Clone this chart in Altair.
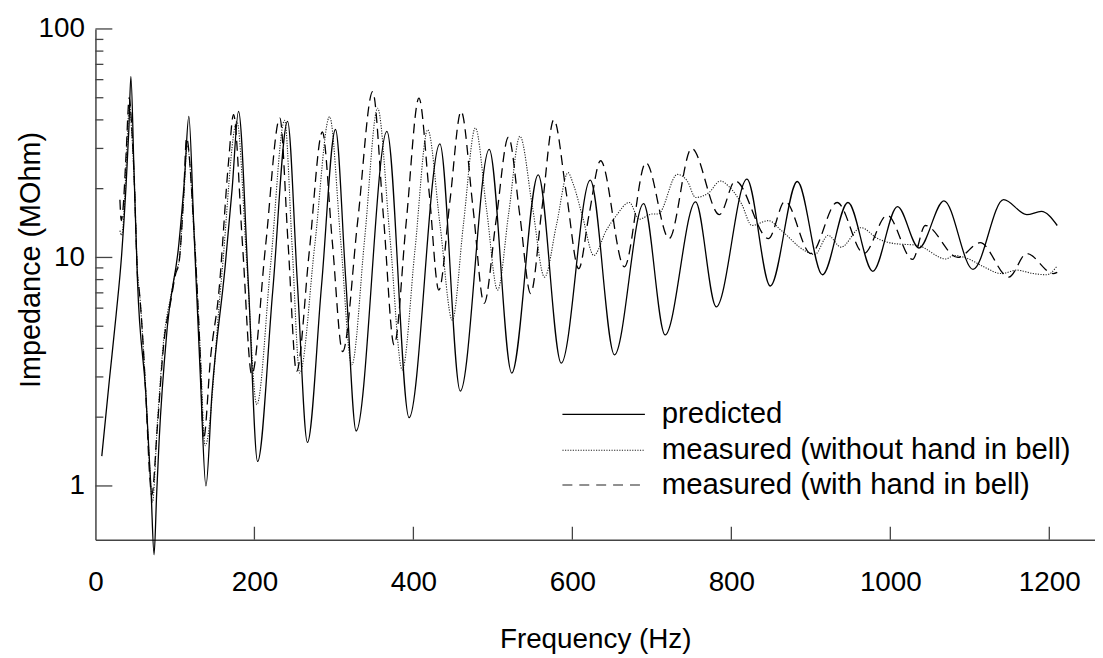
import altair as alt
import pandas as pd

# ---------------- data ----------------
freq_pred = [8, 17.5, 26, 33, 38.3, 42, 44.6, 48.5, 52.9, 63.3, 70, 73.75, 77, 80, 90.4,
             105, 112, 117.5, 123.8, 132, 139, 146.7, 163, 172, 180, 192.5, 204, 223,
             241.7, 254, 266.7, 284.4, 302, 315, 328, 366.7, 394.6, 433.3, 459, 495.4,
             523.75, 557, 586, 622.5, 653, 689.6, 716.7, 755, 781, 819.6, 849, 883,
             914.6, 946.7, 978, 1009, 1036, 1067.5, 1104, 1142.5, 1171.7, 1190, 1210]
imp_pred = [1.35, 2.9, 5.6, 10.3, 20, 36, 62, 24, 7.9, 2.56, 0.95, 0.5, 0.92, 1.55, 4.96,
            11.5, 22, 41.4, 13.5, 3.0, 1.0, 2.56, 9.0, 20, 43.6, 7.5, 1.28, 7.1,
            39.4, 7.8, 1.55, 7.5, 36.3, 7.9, 1.74, 35.6, 1.99, 31.4, 2.6, 29.7,
            3.12, 23, 3.45, 21.8, 3.75, 17.2, 4.58, 17.5, 6.08, 22, 7.5, 21.5,
            8.4, 17.4, 8.7, 16.7, 11.0, 17.7, 8.87, 17.9, 15.4, 15.9, 13.8]

freq_nohand = [30.8, 33, 36, 38.5, 43, 45.5, 48.75, 53, 55.5, 63.3, 68.3, 71.7, 78, 86, 95,
               101, 105, 111, 115.4, 123.75, 132, 138, 158, 178, 190.4, 203, 220.6, 238,
               247.5, 257, 276, 294.6, 308.5, 322.5, 338.7, 355, 370.6, 386, 402, 418,
               433.5, 449, 463, 478, 492, 506, 520, 534, 549.7, 565, 580, 594.6, 601,
               613, 627, 642.5, 655, 671.7, 684, 700.8, 708, 732, 744.6, 755, 771.7,
               786, 796.7, 813, 825.8, 846.7, 863, 892.5, 905, 921.7, 938, 963, 984,
               1005, 1034, 1070, 1080, 1097, 1117.5, 1140, 1159, 1180, 1197, 1209]
imp_nohand = [13.1, 12.5, 16, 25, 47, 36, 22, 8.5, 7.0, 2.6, 1.2, 0.85, 1.9, 4.4, 6.8,
              8.7, 9.5, 18, 31, 13.5, 3.8, 1.5, 7.7, 39.3, 9.5, 2.27, 9.5, 39.8,
              11.1, 3.12, 11.4, 41.3, 11.9, 3.39, 12.1, 45, 12.1, 3.22, 10.8, 36.2,
              13.9, 5.32, 14.0, 36.9, 16.3, 7.2, 15.7, 33.9, 16.7, 8.2, 13.9, 23.5, 21,
              15, 10.2, 13.1, 15.2, 17.4, 14.7, 15.5, 15.5, 23.1, 21.6, 18.3, 19.2,
              21.6, 20.5, 17.1, 13.8, 14.5, 13.1, 10.7, 10.3, 12.5, 11.1, 13.5, 12.1,
              11.5, 11.3, 9.85, 10.2, 9.9, 9.1, 8.5, 8.8, 8.5, 8.4, 9.1]

freq_hand = [30.8, 32.5, 34.5, 38.5, 42.5, 45.5, 48.75, 53, 55, 63.3, 68.3, 70.8, 78, 86, 95,
             101, 105, 111, 114.6, 123.75, 132, 136, 145, 155, 167.5, 173.75, 185, 196.7,
             214, 232, 242.5, 253, 269, 285.5, 298, 311, 330, 348.75, 362.5, 375.8, 391,
             407, 420, 432, 446, 460, 475, 489, 504, 519.6, 534, 547.5, 562, 576.7,
             592.5, 608, 621, 635.5, 665.4, 692.5, 721.7, 750, 785, 805, 846.7, 867.5,
             900, 933, 966.7, 996, 1028, 1044, 1085, 1113, 1149, 1171.7, 1205, 1210]
imp_hand = [17.9, 14.5, 16, 28, 50, 38, 22.4, 8.2, 7.2, 2.56, 1.1, 0.91, 1.83, 4.2, 6.5,
            8.5, 9.4, 18.9, 33.4, 13.5, 3.6, 1.6, 3.7, 6.9, 26.3, 42.2, 11.4, 3.07,
            11.2, 40.7, 11.3, 3.17, 10.6, 35.4, 11.7, 3.87, 14.5, 53.2, 14.8, 4.14, 14.3,
            49.8, 19, 7.19, 17.7, 43.6, 16.5, 6.3, 14.5, 33.6, 15.2, 6.95, 16.7, 40.1,
            19, 8.93, 15.4, 26.5, 9.1, 26, 12.1, 30, 15.4, 21.6, 12.1, 17.6,
            10.4, 17.4, 10.4, 15.3, 9.8, 13.8, 10.0, 11.6, 8.2, 10.4, 8.5, 8.6]

series_names = ["predicted", "measured (without hand in bell)", "measured (with hand in bell)"]

x_tick_values = [0, 200, 400, 600, 800, 1000, 1200]
x_minor_ticks = [200, 400, 600, 800, 1000, 1200]
y_major = [1, 10, 100]
y_minor = [2, 3, 4, 5, 6, 7, 8, 9, 20, 30, 40, 50, 60, 70, 80, 90]

# ---------------- styling ----------------
FONT = "Liberation Sans"
W, H = 1006, 514
AX = "#444444"

x_scale = alt.Scale(domain=[0, 1257.5], nice=False, zero=False)
y_scale = alt.Scale(type="log", domain=[0.582, 100], nice=False)

x_axis = alt.Axis(values=x_tick_values, format="d", ticks=False, tickSize=0, grid=False,
                  domainColor=AX, domainWidth=1.5, labelFlush=False,
                  labelFont=FONT, labelFontSize=28, labelColor="black",
                  labelBaseline="alphabetic", labelPadding=51,
                  title="Frequency (Hz)", titleFont=FONT, titleFontSize=28,
                  titleFontWeight="normal", titleColor="black",
                  titleBaseline="alphabetic", titleX=W / 2, titleY=109)
y_axis = alt.Axis(values=y_major, format="d", ticks=False, tickSize=0, grid=False,
                  domainColor=AX, domainWidth=1.5, labelFlush=False,
                  labelFont=FONT, labelFontSize=28, labelColor="black",
                  labelPadding=11, labelBaseline="middle",
                  title="Impedance (MOhm)", titleFont=FONT, titleFontSize=29,
                  titleFontWeight="normal", titleColor="black", titleAngle=270,
                  titleBaseline="alphabetic", titleX=-56, titleY=232)


def X():
    return alt.X("f:Q", scale=x_scale, axis=x_axis, title="Frequency (Hz)")


def Y():
    return alt.Y("z:Q", scale=y_scale, axis=y_axis, title="Impedance (MOhm)")


df_pred = pd.DataFrame({"f": freq_pred, "z": imp_pred})
df_nohand = pd.DataFrame({"f": freq_nohand, "z": imp_nohand})
df_hand = pd.DataFrame({"f": freq_hand, "z": imp_hand})

line_nohand = alt.Chart(df_nohand).mark_line(
    color="#222222", strokeWidth=1.1, strokeDash=[1.2, 1.4], interpolate="monotone"
).encode(x=X(), y=Y())
line_hand = alt.Chart(df_hand).mark_line(
    color="black", strokeWidth=1.3, strokeDash=[10, 6], interpolate="monotone"
).encode(x=X(), y=Y())
line_pred = alt.Chart(df_pred).mark_line(
    color="black", strokeWidth=1.3, interpolate="monotone"
).encode(x=X(), y=Y())

# inward ticks
ymaj = alt.Chart(pd.DataFrame({"z": y_major})).mark_rule(color=AX, strokeWidth=1.3).encode(
    y=Y(), x=alt.value(0), x2=alt.value(17))
ymin = alt.Chart(pd.DataFrame({"z": y_minor})).mark_rule(color=AX, strokeWidth=1.3).encode(
    y=Y(), x=alt.value(0), x2=alt.value(8))
xmaj = alt.Chart(pd.DataFrame({"f": x_minor_ticks})).mark_rule(color=AX, strokeWidth=1.3).encode(
    x=X(), y=alt.value(H), y2=alt.value(H - 13))

# legend (manual)
leg_x0, leg_x1, leg_tx = 470, 553, 570
leg_rows = [388, 424, 459]
leg_dash = [None, [1.2, 1.4], [10, 7]]
legend_layers = []
for name, yy, dash in zip(series_names, leg_rows, leg_dash):
    d = pd.DataFrame({"name": [name]})
    kw = dict(color="black", strokeWidth=1.3)
    if dash is not None:
        kw = dict(color="#222222", strokeWidth=1.2, strokeDash=dash)
    legend_layers.append(
        alt.Chart(d).mark_rule(**kw).encode(x=alt.value(leg_x0), x2=alt.value(leg_x1), y=alt.value(yy)))
    legend_layers.append(
        alt.Chart(d).mark_text(font=FONT, fontSize=29.5, align="left", baseline="middle",
                               color="black").encode(
            x=alt.value(leg_tx), y=alt.value(yy), text="name:N"))

chart = alt.layer(
    line_nohand, line_hand, line_pred, ymaj, ymin, xmaj, *legend_layers
).properties(
    width=W, height=H,
    autosize=alt.AutoSizeParams(type="none"),
    padding={"left": 88, "top": 19, "right": 0, "bottom": 116},
    background="white",
).configure_view(stroke=None)

chart.save("out.html", embed_options={"renderer": "svg", "actions": False})
